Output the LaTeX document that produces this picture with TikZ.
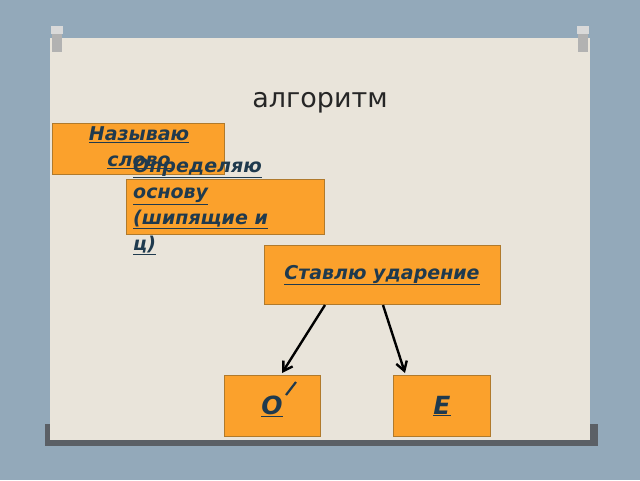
\documentclass[tikz,border=0pt]{standalone}
\usepackage{fontspec}
\setmainfont{DejaVu Sans}
\usetikzlibrary{arrows.meta}
\definecolor{bgblue}{HTML}{93A9BA}
\definecolor{panel}{HTML}{E9E4DA}
\definecolor{boxfill}{HTML}{FBA12C}
\definecolor{boxline}{HTML}{B07A2C}
\definecolor{txt}{HTML}{1F3A4E}
\definecolor{bar}{HTML}{5B6066}
\tikzset{
  obox/.style={draw=boxline, line width=0.8pt, fill=boxfill, inner sep=0pt},
  btxt/.style={text=txt, font=\fontsize{19}{26}\selectfont\bfseries\itshape, inner sep=0pt},
  arr/.style={-{Straight Barb[length=9pt,width=11pt]}, line width=2.4pt, black}
}
\begin{document}
\begin{tikzpicture}[x=1pt,y=-1pt]
\useasboundingbox (0,0) rectangle (640,480);
\fill[bgblue] (0,0) rectangle (640,480);
\fill[bar] (45,424) rectangle (598,446);
\fill[panel] (50,38) rectangle (590,440);
\foreach \px in {57,583}{
  \fill[gray!60] (\px-5,30) rectangle (\px+5,52);
  \fill[gray!30] (\px-6,26) rectangle (\px+6,34);
}
\node[font=\fontsize{27}{30}\selectfont, text=black!85] (title) at (320,103) {алгоритм};
\path[obox] (52,123) rectangle (224,174);
\node[btxt, align=center, anchor=north] (n1) at (139,126) {\underline{Называю}\\\underline{слово}};
\path[obox] (126,179) rectangle (324,234);
\node[btxt, align=left, anchor=north west] (n2) at (133,158) {\underline{Определяю}\\\underline{основу}\\\underline{(шипящие и}\\\underline{ц)}};
\node[obox, minimum width=236pt, minimum height=59pt] (n3) at (382,275) {};
\node[btxt] at (n3) {\underline{Ставлю ударение}};
\node[obox, minimum width=96pt, minimum height=61pt] (o) at (272,406) {};
\node[btxt, font=\fontsize{25}{28}\selectfont\bfseries\itshape] at (o) {\underline{О}};
\draw[txt, line width=2.2pt] (286,395) -- (296,382);
\node[obox, minimum width=97pt, minimum height=61pt] (e) at (442,406) {};
\node[btxt, font=\fontsize{25}{28}\selectfont\bfseries\itshape] at (e) {\underline{Е}};
\coordinate (s1) at (325,305);
\coordinate (s2) at (383,305);
\draw[arr] (s1) -- (282,373);
\draw[arr] (s2) -- (405,373);
\end{tikzpicture}
\end{document}
